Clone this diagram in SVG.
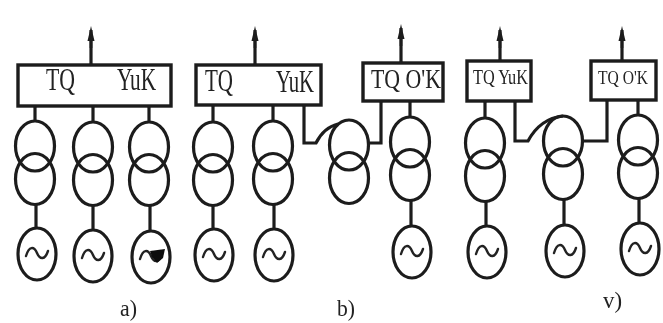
<svg xmlns="http://www.w3.org/2000/svg" width="663" height="323" viewBox="0 0 663 323">
<style>
.l{fill:none;stroke:#1c1c1c;stroke-width:3.2}
.b{fill:#fff;stroke:#1c1c1c;stroke-width:3.4}
.w{fill:none;stroke:#222;stroke-width:2.4;stroke-linecap:round}
text{font-family:"Liberation Serif","Times New Roman",serif;fill:#222}
.t{font-size:31px}
.m{font-size:28px}
.s{font-size:22px}
.r{font-size:19.5px}
.c{font-size:23px}
</style>
<defs>
<filter id="soft" x="-5%" y="-5%" width="110%" height="110%"><feGaussianBlur stdDeviation="0.55"/></filter>
<g id="tr">
<ellipse class="l" cx="0" cy="0" rx="19.5" ry="25"/>
<ellipse class="l" cx="0" cy="33" rx="19.5" ry="25.5"/>
</g>
<g id="gen">
<ellipse class="l" cx="0" cy="0" rx="19" ry="26"/>
<path class="w" d="M-11 2C-8 -8 -3 -8 0 -1C3 6 8 6 11 -3"/>
</g>
<path id="ah" fill="#1c1c1c" d="M0 -22L3.5 -7L1.3 -7L1.3 0L-1.3 0L-1.3 -7L-3.5 -7Z"/>
</defs>
<rect width="663" height="323" fill="#fff"/>
<g filter="url(#soft)">
<g id="connectors">
<path class="l" d="M91 30V65M255 30V65M401 28V63M500 30V61M622 30V61"/>
<path class="l" d="M35 106V121M93 106V122M149 106V122M36 204V228M93 205V230M150 205V231"/>
<path class="l" d="M213 105V122M273 105V121M213 204V229M274 204V229"/>
<path class="l" d="M304 105V143H316C320 135 326 127 338 124M381 101V143H367"/>
<path class="l" d="M410 101V117M411 201V227"/>
<path class="l" d="M485 101V118M486 201V226"/>
<path class="l" d="M515 101V141H528C535 128 545 118 563 116M607 100V141H582"/>
<path class="l" d="M564 200V225M638 100V115M639 198V223"/>
<use href="#ah" x="91" y="48"/>
<use href="#ah" x="255" y="48"/>
<use href="#ah" x="401" y="46"/>
<use href="#ah" x="500" y="48"/>
<use href="#ah" x="622" y="48"/>
</g>
<g id="box-a"><rect class="b" x="18" y="65" width="153" height="41"/><text class="t" x="46" y="90" textLength="29" lengthAdjust="spacingAndGlyphs">TQ</text><text class="t" x="117" y="90" textLength="39" lengthAdjust="spacingAndGlyphs">YuK</text></g>
<g id="box-b1"><rect class="b" x="196" y="65" width="125" height="40"/><text class="t" x="205" y="91" textLength="28" lengthAdjust="spacingAndGlyphs">TQ</text><text class="t" x="276" y="92" textLength="38" lengthAdjust="spacingAndGlyphs">YuK</text></g>
<g id="box-b2"><rect class="b" x="363" y="63" width="80" height="38"/><text class="m" x="371" y="88" textLength="70" lengthAdjust="spacingAndGlyphs">TQ O'K</text></g>
<g id="box-v1"><rect class="b" x="467" y="61" width="64" height="40"/><text class="s" x="473" y="84" textLength="55" lengthAdjust="spacingAndGlyphs">TQ YuK</text></g>
<g id="box-v2"><rect class="b" x="591" y="61" width="65" height="39"/><text class="r" x="598" y="84" textLength="50" lengthAdjust="spacingAndGlyphs">TQ O'K</text></g>
<g id="a1"><use href="#tr" x="35" y="146"/><use href="#gen" x="37" y="254"/></g>
<g id="a2"><use href="#tr" x="93" y="147"/><use href="#gen" x="93" y="256"/></g>
<g id="a3"><use href="#tr" x="149" y="147"/><use href="#gen" x="151" y="257"/><path fill="#111" d="M150 251L165 249L163 258L157 263L152 257Z"/></g>
<g id="b1"><use href="#tr" x="213" y="147"/><use href="#gen" x="214" y="255"/></g>
<g id="b2"><use href="#tr" x="273" y="146"/><use href="#gen" x="274" y="255"/></g>
<g id="b3"><use href="#tr" x="349" y="145"/></g>
<g id="b4"><use href="#tr" x="410" y="142"/><use href="#gen" x="412" y="252"/></g>
<g id="v1"><use href="#tr" x="485" y="143"/><use href="#gen" x="487" y="252"/></g>
<g id="v2"><use href="#tr" x="563" y="141"/><use href="#gen" x="565" y="251"/></g>
<g id="v3"><use href="#tr" x="638" y="140"/><use href="#gen" x="640" y="249"/></g>
<g id="captions"><text class="c" x="120" y="316" textLength="17" lengthAdjust="spacingAndGlyphs">a)</text><text class="c" x="337" y="316" textLength="18" lengthAdjust="spacingAndGlyphs">b)</text><text class="c" x="603" y="308" textLength="19" lengthAdjust="spacingAndGlyphs">v)</text></g>
</g>
</svg>
